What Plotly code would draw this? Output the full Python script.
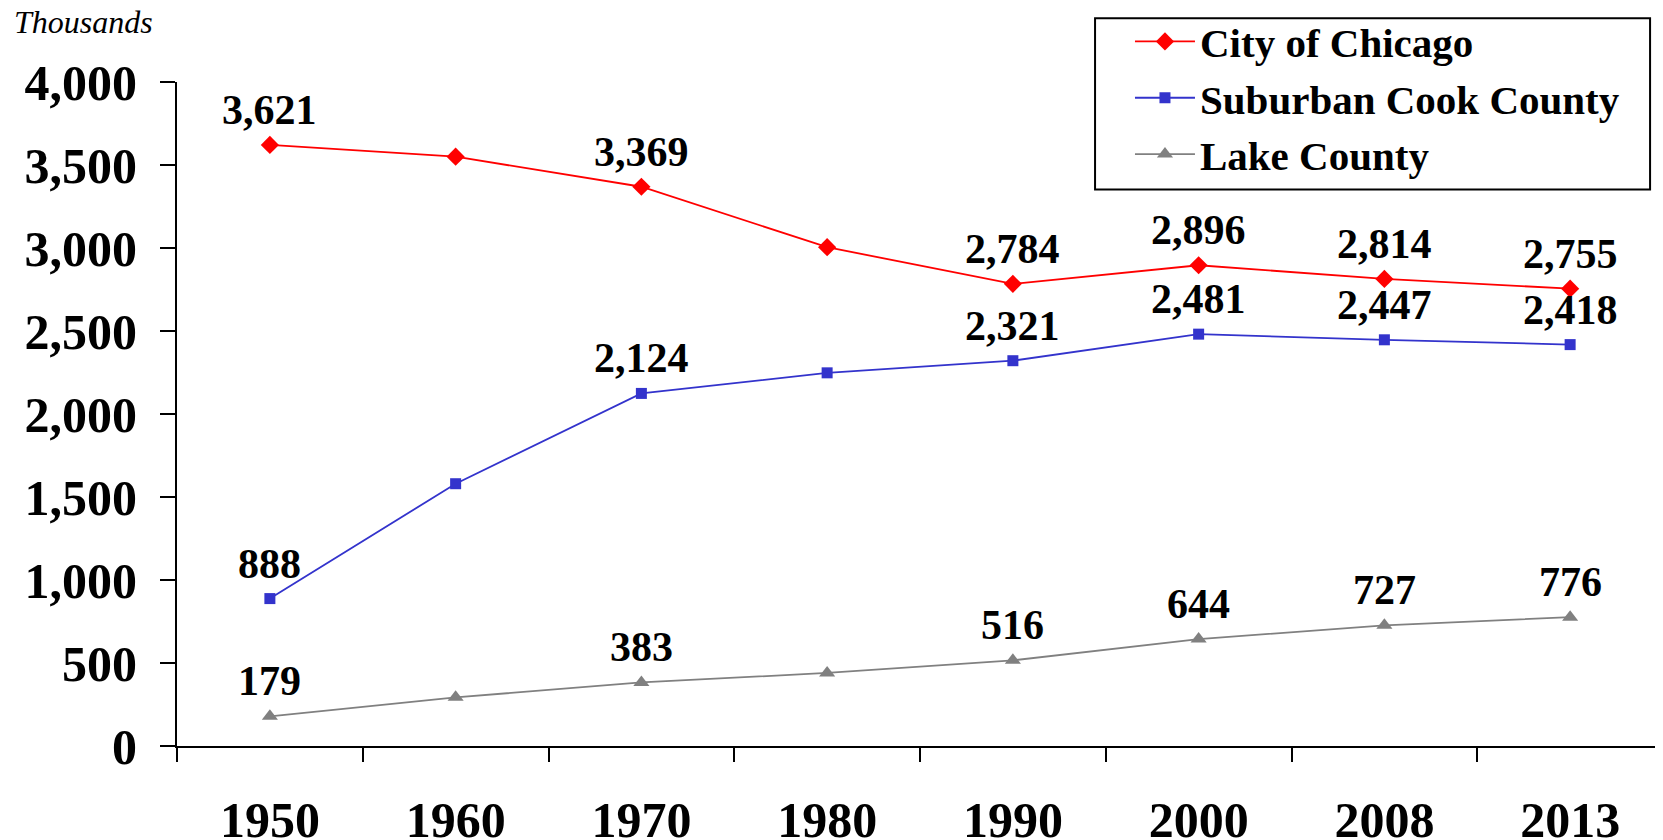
import plotly.graph_objects as go

# ── Data (thousands) ──────────────────────────────────────────────────────────
years = ["1950", "1960", "1970", "1980", "1990", "2000", "2008", "2013"]
chicago = [3621, 3550, 3369, 3005, 2784, 2896, 2814, 2755]
suburban_cook = [888, 1580, 2124, 2248, 2321, 2481, 2447, 2418]
lake = [179, 293, 383, 440, 516, 644, 727, 776]
labelled_years = ["1950", "1970", "1990", "2000", "2008", "2013"]
y_ticks = [0, 500, 1000, 1500, 2000, 2500, 3000, 3500, 4000]

# ── Style ─────────────────────────────────────────────────────────────────────
_SERIF = "Liberation Serif, Times New Roman, serif"
_BLACK = "#000000"

series = [
    ("City of Chicago", chicago, "#ff0000", "diamond", 14),
    ("Suburban Cook County", suburban_cook, "#3333cc", "square", 11),
    ("Lake County", lake, "#808080", "triangle-up", 14),
]

fig = go.Figure()
annotations = []
for name, vals, color, symbol, size in series:
    fig.add_trace(go.Scatter(
        x=years, y=vals, name=name,
        mode="lines+markers",
        line=dict(color=color, width=1.8),
        marker=dict(symbol=symbol, size=size, color=color),
    ))
    # value labels above the points, as in the source chart
    for i, (yr, v) in enumerate(zip(years, vals)):
        if yr in labelled_years:
            annotations.append(dict(
                x=i, y=v, text=f"{v:,}", showarrow=False,
                yshift=35, xanchor="center", yanchor="middle",
                font=dict(family=_SERIF, size=42, color=_BLACK, weight="bold"),
            ))

annotations.append(dict(
    xref="paper", yref="paper", x=-0.111, y=1.09,
    xanchor="left", yanchor="middle", showarrow=False,
    text="<i>Thousands</i>",
    font=dict(family=_SERIF, size=32, color=_BLACK),
))

# legend frame (drawn as a shape so the padding matches the original)
legend_box = dict(
    type="rect", xref="paper", yref="paper",
    x0=0.6178, x1=0.9913, y0=0.8381, y1=1.096,
    line=dict(color=_BLACK, width=2), fillcolor="white", layer="above",
)

fig.update_layout(
    width=1655, height=832,
    plot_bgcolor="white", paper_bgcolor="white",
    margin=dict(l=169, r=0, t=70, b=94),
    font=dict(family=_SERIF, color=_BLACK),
    annotations=annotations,
    shapes=[legend_box],
    legend=dict(
        x=0.6413, y=1.111, xanchor="left", yanchor="top",
        bgcolor="rgba(0,0,0,0)", borderwidth=0,
        font=dict(family=_SERIF, size=41, color=_BLACK, weight="bold"),
        itemwidth=60, tracegroupgap=0,
    ),
    xaxis=dict(
        type="category", range=[-0.5, len(years) - 0.5],
        showgrid=False, zeroline=False, automargin=False,
        showline=True, linecolor=_BLACK, linewidth=2,
        ticks="outside", tickson="boundaries", ticklen=14, tickwidth=2,
        tickcolor=_BLACK, ticklabelstandoff=29, tickangle=0,
        tickfont=dict(family=_SERIF, size=50, color=_BLACK, weight="bold"),
    ),
    yaxis=dict(
        range=[0, 4000], showgrid=False, zeroline=False, automargin=False,
        showline=True, linecolor=_BLACK, linewidth=2,
        ticks="outside", ticklen=15, tickwidth=2, tickcolor=_BLACK,
        tickvals=y_ticks, ticktext=[f"{t:,}" for t in y_ticks],
        ticklabelstandoff=13,
        tickfont=dict(family=_SERIF, size=50, color=_BLACK, weight="bold"),
    ),
)

fig.write_html("out.html")
